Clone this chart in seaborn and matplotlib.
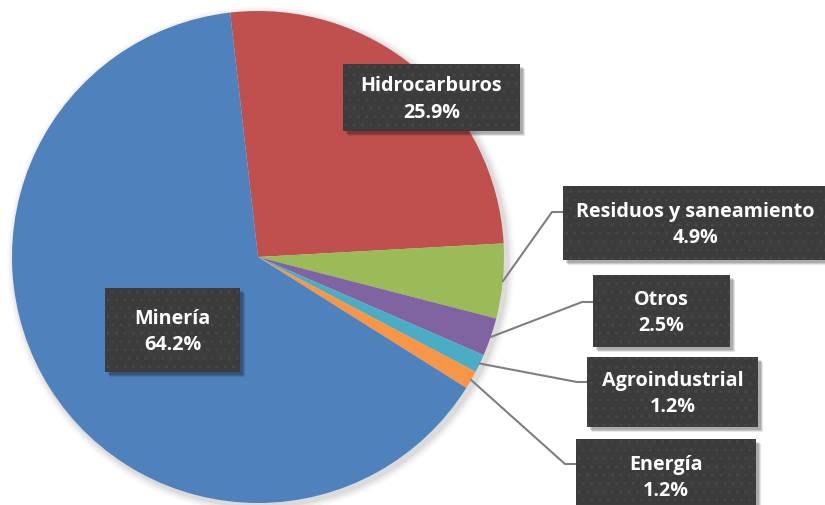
import matplotlib
matplotlib.use("Agg")
import numpy as np
import matplotlib.pyplot as plt
import seaborn as sns
from matplotlib.patches import Rectangle, Circle

sectors = ["Hidrocarburos", "Residuos y saneamiento", "Otros", "Agroindustrial", "Energía", "Minería"]
shares = [25.9, 4.9, 2.5, 1.2, 1.2, 64.2]
colors = ["#C0504D", "#9BBB59", "#8064A2", "#4BACC6", "#F79646", "#4F81BD"]

# label boxes in pixel coords (x0, y0, x1, y1), top-left origin
boxes = {
    "Hidrocarburos": (343, 65, 520, 132),
    "Residuos y saneamiento": (563, 187, 828, 261),
    "Otros": (593, 276, 730, 348),
    "Agroindustrial": (587, 358, 758, 428),
    "Energía": (576, 440, 756, 514),
    "Minería": (105, 289, 240, 373),
}
# elbow of leader lines (x, y)
elbows = {
    "Residuos y saneamiento": (552, 213),
    "Otros": (582, 303),
    "Agroindustrial": (577, 383),
    "Energía": (565, 465),
}

W, H = 825, 506
sns.set_theme(style="white")
plt.rcParams["font.family"] = ["Open Sans", "DejaVu Sans"]
plt.rcParams["hatch.color"] = "#474747"
plt.rcParams["hatch.linewidth"] = 1.0

fig = plt.figure(figsize=(W / 100, H / 100), dpi=100)
ax = fig.add_axes([0, 0, 1, 1])

cx, cy, r = 258, H - 258, 246

# soft shadow behind the pie
for i, a in enumerate([0.05, 0.04, 0.03, 0.02]):
    ax.add_patch(Circle((cx + 3, cy - 3), r + 2 + 2 * i, color="black", alpha=a, lw=0, zorder=0))

wedges, _ = ax.pie(shares, colors=colors, startangle=96.5, counterclock=False,
                   center=(cx, cy), radius=r, wedgeprops=dict(linewidth=0))
for w in wedges:
    w.set_zorder(1)

ax.set_xlim(0, W)
ax.set_ylim(0, H)
ax.set_aspect("equal")
ax.axis("off")

for name, val, w in zip(sectors, shares, wedges):
    x0, y0, x1, y1 = boxes[name]
    # shadow
    for k, a in [(5, 0.10), (4, 0.12), (3, 0.15)]:
        ax.add_patch(Rectangle((x0 + k, H - y1 - k), x1 - x0, y1 - y0,
                               facecolor="black", alpha=a, lw=0, zorder=3))
    ax.add_patch(Rectangle((x0, H - y1), x1 - x0, y1 - y0, facecolor="#3C3C3C",
                           edgecolor="#474747", hatch="..", lw=0, zorder=4))
    ax.text((x0 + x1) / 2, H - (y0 + y1) / 2 - 1, f"{name}\n{val:.1f}%", color="white",
            fontsize=14.2, fontweight="bold", ha="center", va="center",
            linespacing=1.45, zorder=5)
    if name in elbows:
        ex, ey = elbows[name]
        th = np.deg2rad((w.theta1 + w.theta2) / 2)
        sx, sy = cx + r * np.cos(th), cy + r * np.sin(th)
        ax.plot([sx, ex, x0], [sy, H - ey, H - ey], color="#7F7F7F", lw=1.5, zorder=2)

fig.savefig("out.png", dpi=100)
